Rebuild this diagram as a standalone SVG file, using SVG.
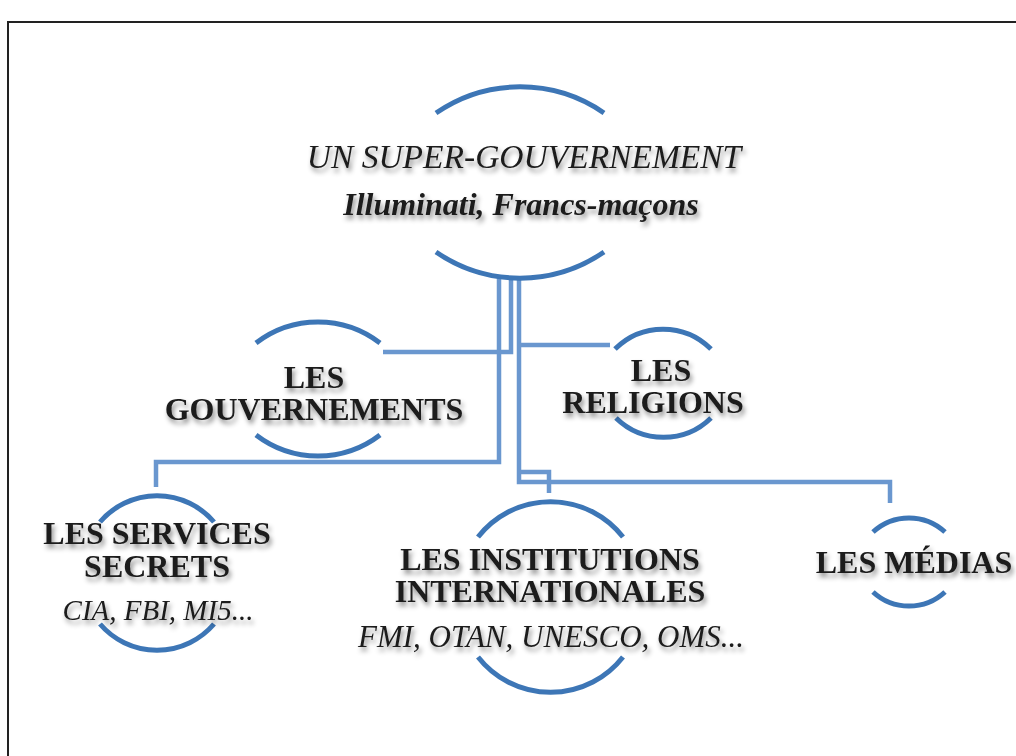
<svg xmlns="http://www.w3.org/2000/svg" width="1016" height="756" viewBox="0 0 1016 756">
<defs>
<filter id="sh" x="-10%" y="-30%" width="120%" height="170%">
<feDropShadow dx="2" dy="4" stdDeviation="2.5" flood-color="#000" flood-opacity="0.45"/>
</filter>
<style>
.arc{fill:none;stroke:#3d76b6;stroke-width:5;stroke-linecap:butt}
.con{fill:none;stroke:#6a97cf;stroke-width:4.5;stroke-linejoin:miter}
.t{font-family:"Liberation Serif","Times New Roman",serif;fill:#1a1a1a;text-anchor:middle;filter:url(#sh)}
.b{font-weight:bold;font-size:32px}
.i{font-style:italic}
</style>
</defs>
<rect x="0" y="0" width="1016" height="756" fill="#fff"/>
<rect x="8" y="22" width="1030" height="760" fill="none" stroke="#222" stroke-width="2"/>

<g id="connectors">
<polyline class="con" points="499,278 499,462 156,462 156,487"/>
<polyline class="con" points="511,278 511,352 383,352"/>
<polyline class="con" points="519,278 519,482 890,482 890,503"/>
<polyline class="con" points="519,345 610,345"/>
<polyline class="con" points="519,472 549,472 549,493"/>
</g>

<g id="node-super">
<path class="arc" d="M436,113 A148,148 0 0 1 604,113"/>
<path class="arc" d="M436,252 A148,148 0 0 0 604,252"/>
<text class="t i" x="524" y="168" font-size="33.5">UN SUPER-GOUVERNEMENT</text>
<text class="t i" x="521" y="215" font-size="32" font-weight="bold">Illuminati, Francs-maçons</text>
</g>

<g id="node-gouvernements">
<path class="arc" d="M256,343 A102,102 0 0 1 380,343"/>
<path class="arc" d="M256,435 A102,102 0 0 0 380,435"/>
<text class="t b" x="314" y="388">LES</text>
<text class="t b" x="314" y="420">GOUVERNEMENTS</text>
</g>

<g id="node-religions">
<path class="arc" d="M615,349 A68,68 0 0 1 711,349"/>
<path class="arc" d="M616,418 A68,68 0 0 0 711,418"/>
<text class="t b" x="661" y="381">LES</text>
<text class="t b" x="653" y="413">RELIGIONS</text>
</g>

<g id="node-services">
<path class="arc" d="M100,522 A75,75 0 0 1 214,522"/>
<path class="arc" d="M100,624 A75,75 0 0 0 214,624"/>
<text class="t b" x="157" y="544">LES SERVICES</text>
<text class="t b" x="157" y="577">SECRETS</text>
<text class="t i" x="158" y="620" font-size="29">CIA, FBI, MI5...</text>
</g>

<g id="node-institutions">
<path class="arc" d="M478,537 A92,92 0 0 1 623,537"/>
<path class="arc" d="M478,657 A92,92 0 0 0 623,657"/>
<text class="t b" x="550" y="570">LES INSTITUTIONS</text>
<text class="t b" x="550" y="602">INTERNATIONALES</text>
<text class="t i" x="551" y="647" font-size="31">FMI, OTAN, UNESCO, OMS...</text>
</g>

<g id="node-medias">
<path class="arc" d="M873,532 A53,53 0 0 1 945,532"/>
<path class="arc" d="M873,592 A53,53 0 0 0 945,592"/>
<text class="t b" x="914" y="573">LES MÉDIAS</text>
</g>
</svg>
